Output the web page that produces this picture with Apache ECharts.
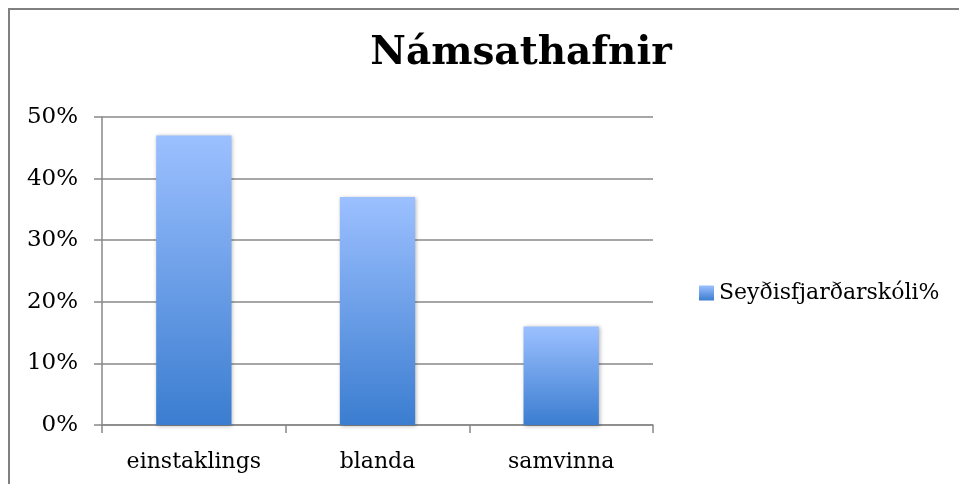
<!DOCTYPE html>
<html><head><meta charset="utf-8">
<script src="https://cdn.jsdelivr.net/npm/echarts@6/dist/echarts.min.js"></script>
<style>html,body{margin:0;padding:0;background:#fff}#c{width:959px;height:484px}</style>
</head><body><div id="c"></div>
<script>
var titleText = 'Námsathafnir';
var categories = ['einstaklings', 'blanda', 'samvinna'];
var seriesName = 'Seyðisfjarðarskóli%';
var values = [47, 37, 16];
var yTicks = [0, 10, 20, 30, 40, 50];

var font = 'DejaVu Serif';
var grad = new echarts.graphic.LinearGradient(0, 0, 0, 1, [
  {offset: 0, color: '#9cc0ff'},
  {offset: 1, color: '#3b7dd0'}
]);
var chart = echarts.init(document.getElementById('c'));
chart.setOption({
  animation: false,
  graphic: [{type: 'polyline', shape: {points: [[9, 500], [9, 9], [980, 9]]}, style: {stroke: '#808080', lineWidth: 2, fill: null}}],
  title: {text: titleText, left: 516, top: 29, textAlign: 'center',
    textStyle: {fontFamily: font, fontWeight: 'bold', fontSize: 39, color: '#000'}},
  legend: {data: [{name: seriesName, icon: 'rect'}], orient: 'vertical', left: 694, top: 277,
    itemWidth: 15, itemHeight: 15, itemGap: 4,
    textStyle: {fontFamily: font, fontSize: 22, color: '#000'}},
  grid: {left: 102, right: 306, top: 117, bottom: 59, containLabel: false},
  xAxis: {type: 'category', data: categories,
    axisLine: {lineStyle: {color: '#888', width: 1.5}},
    axisTick: {show: true, length: 8, lineStyle: {color: '#888', width: 1.5}},
    axisLabel: {fontFamily: font, fontSize: 22, color: '#000', margin: 26}},
  yAxis: {type: 'value', min: 0, max: 50, interval: 10,
    axisLine: {show: true, lineStyle: {color: '#888', width: 1.5}},
    axisTick: {show: true, length: 8, lineStyle: {color: '#888', width: 1.5}},
    splitLine: {lineStyle: {color: '#888', width: 1.5}},
    axisLabel: {fontFamily: font, fontSize: 23, color: '#000', margin: 24,
      formatter: function (v) { return yTicks.indexOf(v) >= 0 ? v + '%' : ''; }}},
  series: [{type: 'bar', name: seriesName, data: values, barWidth: '41%',
    itemStyle: {color: grad, shadowColor: 'rgba(0,0,0,0.3)', shadowBlur: 4, shadowOffsetX: 1, shadowOffsetY: 1}}]
});
</script></body></html>
